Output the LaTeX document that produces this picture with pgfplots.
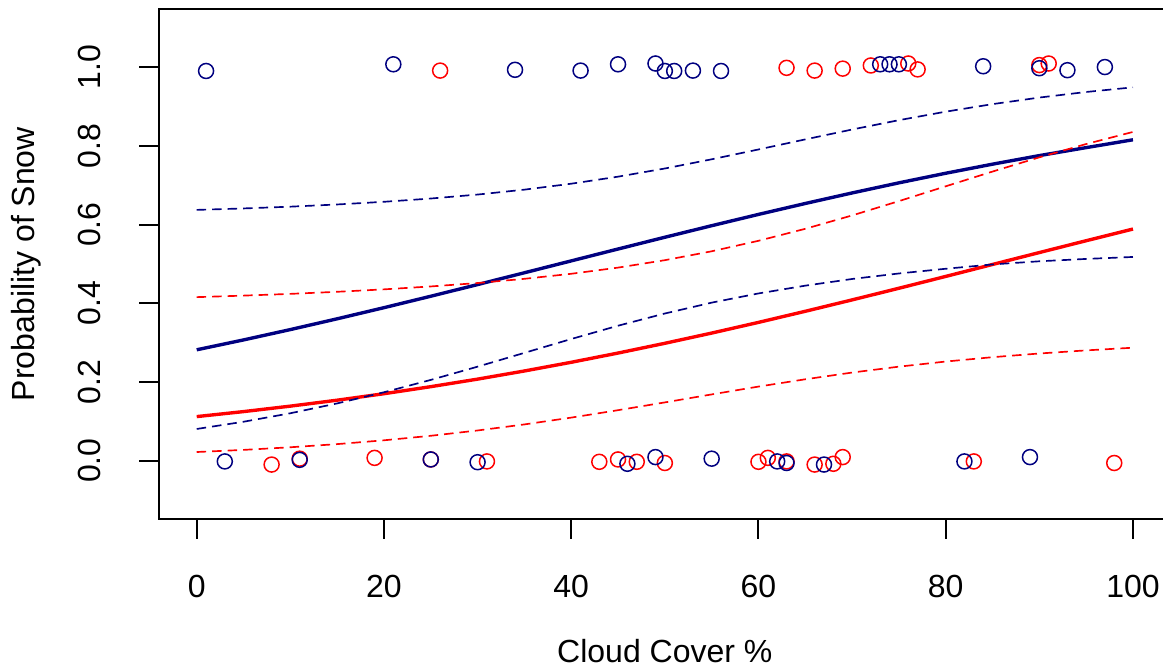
\documentclass[border=0pt]{standalone}
\usepackage{fontspec}
\setmainfont{Liberation Sans}
\usepackage{pgfplots}
\pgfplotsset{compat=1.18}
\usepackage{pgfplotstable}
\definecolor{navyR}{RGB}{0,0,128}
\definecolor{redR}{RGB}{255,0,0}

\pgfplotstableread{
x bs bu bl rs ru rl
0 0.2819 0.6377 0.0805 0.1120 0.4158 0.0219
5 0.3070 0.6414 0.0989 0.1247 0.4197 0.0273
10 0.3333 0.6459 0.1205 0.1386 0.4241 0.0340
15 0.3607 0.6515 0.1455 0.1537 0.4294 0.0420
20 0.3890 0.6583 0.1739 0.1702 0.4356 0.0517
25 0.4181 0.6666 0.2053 0.1881 0.4430 0.0632
30 0.4478 0.6767 0.2390 0.2073 0.4517 0.0767
35 0.4778 0.6892 0.2741 0.2280 0.4624 0.0921
40 0.5080 0.7043 0.3093 0.2501 0.4752 0.1094
45 0.5382 0.7222 0.3431 0.2736 0.4909 0.1283
50 0.5681 0.7430 0.3742 0.2984 0.5098 0.1481
55 0.5975 0.7664 0.4018 0.3244 0.5324 0.1684
60 0.6262 0.7914 0.4252 0.3516 0.5591 0.1883
65 0.6540 0.8170 0.4450 0.3798 0.5896 0.2069
70 0.6808 0.8421 0.4620 0.4088 0.6236 0.2240
75 0.7065 0.8659 0.4760 0.4384 0.6600 0.2390
80 0.7309 0.8875 0.4880 0.4685 0.6977 0.2520
85 0.7540 0.9067 0.4990 0.4989 0.7352 0.2631
90 0.7758 0.9234 0.5070 0.5292 0.7714 0.2725
95 0.7961 0.9376 0.5130 0.5593 0.8052 0.2804
100 0.8160 0.9494 0.5180 0.5890 0.8360 0.2872
}\curves

\pgfplotstableread{
x y
1 0.991
21 1.008
34 0.994
41 0.992
45 1.008
49 1.010
50 0.991
51 0.991
53 0.992
56 0.991
73 1.008
74 1.008
75 1.008
84 1.003
90 0.998
93 0.993
97 1.001
3 -0.002
11 0.002
25 0.003
30 -0.004
46 -0.008
49 0.009
55 0.005
62 -0.002
63 -0.006
67 -0.010
82 -0.002
89 0.009
}\bluepts

\pgfplotstableread{
x y
26 0.992
63 0.999
66 0.992
69 0.997
72 1.005
76 1.010
77 0.995
90 1.006
91 1.010
8 -0.010
11 0.005
19 0.007
25 0.003
31 -0.002
43 -0.003
45 0.003
47 -0.003
50 -0.006
60 -0.003
61 0.007
63 -0.002
66 -0.010
68 -0.008
69 0.009
83 -0.002
98 -0.006
}\redpts

\begin{document}
\begin{tikzpicture}
\begin{axis}[
  name=ax,
  scale only axis,
  width=404.4pt, height=203.8pt,
  xmin=-4, xmax=104,
  ymin=-0.148, ymax=1.148,
  xtick={0,20,40,60,80,100},
  ytick={0,0.2,0.4,0.6,0.8,1.0},
  yticklabels={0.0,0.2,0.4,0.6,0.8,1.0},
  tick align=outside,
  major tick length=8pt,
  xtick pos=bottom, ytick pos=left,
  axis line style={line width=0.8pt},
  every tick/.style={line width=0.8pt, black},
  /pgf/number format/assume math mode=true,
  tick label style={font=\fontsize{12.8}{14}\selectfont},
  xticklabel style={anchor=north, yshift=-11pt},
  yticklabel style={xshift=-12pt, rotate=90, anchor=south},
  label style={font=\fontsize{12.8}{14}\selectfont},
  xlabel={Cloud Cover \%},
  xlabel style={at={(axis description cs:0.5,-0.281)}, anchor=base},
  ylabel={Probability of Snow},
  ylabel style={at={(axis description cs:-0.1317,0.5)}, anchor=center, rotate=0},
  clip=true,
]
\addplot[only marks, mark=o, mark size=3.0pt, mark options={line width=0.6pt, redR}] table[x=x,y=y] {\redpts};
\addplot[only marks, mark=o, mark size=3.0pt, mark options={line width=0.6pt, navyR}] table[x=x,y=y] {\bluepts};
\addplot[navyR, line width=1.35pt] table[x=x,y=bs] {\curves};
\addplot[redR, line width=1.35pt] table[x=x,y=rs] {\curves};
\addplot[navyR, line width=0.67pt, dash pattern=on 3.8pt off 2.4pt] table[x=x,y=bu] {\curves};
\addplot[navyR, line width=0.67pt, dash pattern=on 3.8pt off 2.4pt] table[x=x,y=bl] {\curves};
\addplot[redR, line width=0.67pt, dash pattern=on 3.8pt off 2.4pt] table[x=x,y=ru] {\curves};
\addplot[redR, line width=0.67pt, dash pattern=on 3.8pt off 2.4pt] table[x=x,y=rl] {\curves};
\end{axis}
\pgfresetboundingbox
\path[use as bounding box] ([xshift=-63.7pt,yshift=-60.3pt]ax.south west) rectangle ([xshift=-2.96pt,yshift=3.7pt]ax.north east);
\end{tikzpicture}
\end{document}
